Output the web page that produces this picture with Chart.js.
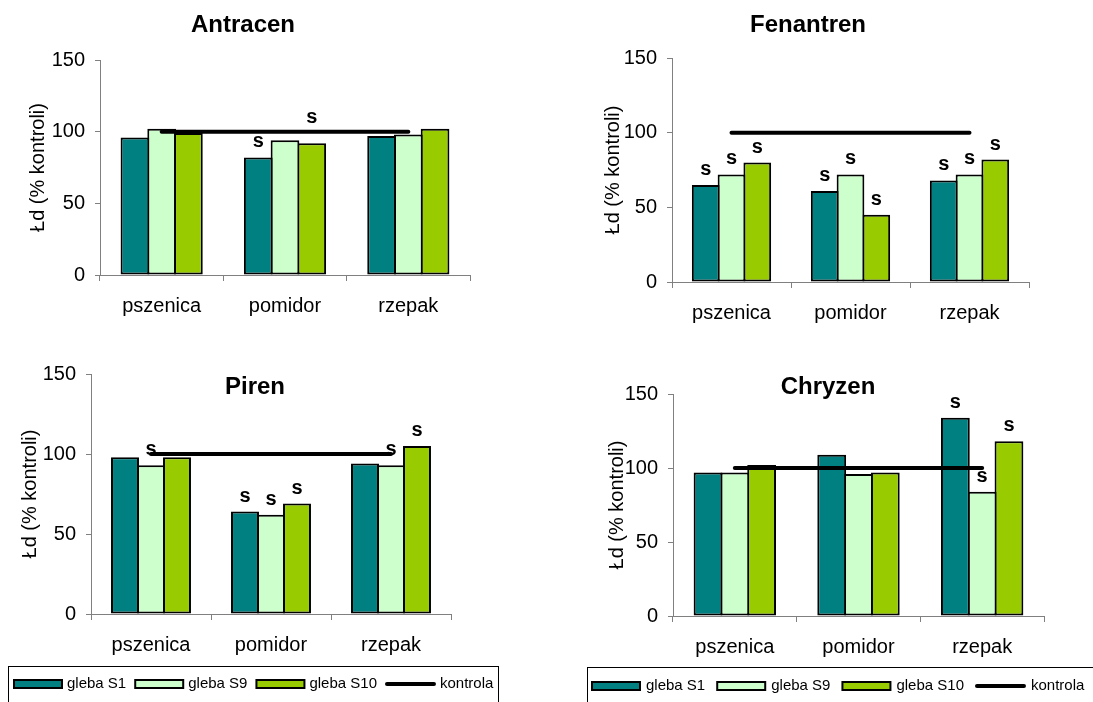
<!DOCTYPE html>
<html>
<head>
<meta charset="utf-8">
<script src="https://cdn.jsdelivr.net/npm/chart.js@4/dist/chart.umd.min.js"></script>
<style>
  html, body { margin: 0; padding: 0; background: #fff; }
  body { width: 1093px; height: 702px; overflow: hidden; position: relative; }
  canvas { position: absolute; }
</style>
</head>
<body>
<canvas id="antracen" width="540" height="330" style="left:0;top:0"></canvas>
<canvas id="fenantren" width="553" height="330" style="left:540px;top:0"></canvas>
<canvas id="piren" width="540" height="372" style="left:0;top:330px"></canvas>
<canvas id="chryzen" width="553" height="372" style="left:540px;top:330px"></canvas>
<script>
// Shared labels
const categories = ['pszenica', 'pomidor', 'rzepak'];
const seriesNames = ['gleba S1', 'gleba S9', 'gleba S10', 'kontrola'];
const yTicks = [0, 50, 100, 150];
const yAxisTitle = 'Łd (% kontroli)';
const kontrola = [100, 100, 100];

// Antracen
const antracenS1 = [96, 82, 97];
const antracenS9 = [102, 94, 98];
const antracenS10 = [99, 92, 102];
const antracenMarksS1 = ['', 's', ''];
const antracenMarksS9 = ['', '', ''];
const antracenMarksS10 = ['', 's', ''];

// Fenantren
const fenantrenS1 = [65, 61, 68];
const fenantrenS9 = [72, 72, 72];
const fenantrenS10 = [80, 45, 82];
const fenantrenMarksS1 = ['s', 's', 's'];
const fenantrenMarksS9 = ['s', 's', 's'];
const fenantrenMarksS10 = ['s', 's', 's'];

// Piren
const pirenS1 = [98, 64, 94];
const pirenS9 = [93, 62, 93];
const pirenS10 = [98, 69, 105];
const pirenMarksS1 = ['', 's', ''];
const pirenMarksS9 = ['s', 's', 's'];
const pirenMarksS10 = ['', 's', 's'];

// Chryzen
const chryzenS1 = [97, 109, 134];
const chryzenS9 = [97, 96, 84];
const chryzenS10 = [102, 97, 118];
const chryzenMarksS1 = ['', '', 's'];
const chryzenMarksS9 = ['', '', 's'];
const chryzenMarksS10 = ['', '', 's'];

const FONT = '"Liberation Sans", Arial, sans-serif';
const colors = ['#008080', '#CCFFCC', '#99CC00'];
const AXIS = '#808080';

// Bold panel heading drawn at a fixed spot
const panelTitle = {
  id: 'panelTitle',
  afterDraw(chart, args, opts) {
    const ctx = chart.ctx;
    ctx.save();
    ctx.font = 'bold 24px ' + FONT;
    ctx.fillStyle = '#000';
    ctx.textAlign = 'center';
    ctx.textBaseline = 'middle';
    ctx.fillText(opts.text, opts.x, opts.y);
    ctx.restore();
  }
};

// Significance letters above bars
const sigMarks = {
  id: 'sigMarks',
  afterDatasetsDraw(chart, args, opts) {
    const ctx = chart.ctx;
    ctx.save();
    ctx.font = 'bold 20px ' + FONT;
    ctx.fillStyle = '#000';
    ctx.textAlign = 'center';
    ctx.textBaseline = 'alphabetic';
    opts.marks.forEach((list, di) => {
      const meta = chart.getDatasetMeta(di);
      list.forEach((txt, i) => {
        if (!txt) return;
        const el = meta.data[i];
        const lift = (opts.lift && opts.lift[di + ',' + i]) || 0;
        ctx.fillText(txt, el.x, el.y - 10 - lift);
      });
    });
    ctx.restore();
  }
};

// Boxed legend row under the lower panels
const panelLegend = {
  id: 'panelLegend',
  afterDraw(chart, args, opts) {
    if (!opts.show) return;
    const ctx = chart.ctx;
    ctx.save();
    ctx.strokeStyle = '#000';
    ctx.lineWidth = 1;
    ctx.strokeRect(opts.boxX + 0.5, opts.boxY + 0.5, opts.boxW, 80);
    ctx.font = '15px ' + FONT;
    ctx.textBaseline = 'middle';
    ctx.fillStyle = '#000';
    let x = opts.x;
    const y = opts.y;
    chart.data.datasets.forEach(ds => {
      if (ds.type === 'line') {
        ctx.strokeStyle = '#000';
        ctx.lineWidth = 4;
        ctx.lineCap = 'round';
        ctx.beginPath();
        ctx.moveTo(x + 2, y + 5);
        ctx.lineTo(x + 49, y + 5);
        ctx.stroke();
        x += 51;
      } else {
        ctx.fillStyle = '#000';
        ctx.fillRect(x, y, 50, 10);
        ctx.fillStyle = ds.backgroundColor;
        ctx.fillRect(x + 2, y + 2, 46, 6);
        x += 50;
      }
      x += opts.textGap;
      ctx.fillStyle = '#000';
      ctx.fillText(ds.label, x, y + 5);
      x += ctx.measureText(ds.label).width + opts.itemGap;
    });
    ctx.restore();
  }
};

function makeChart(id, s1, s9, s10, marks, g) {
  const canvas = document.getElementById(id);
  const W = canvas.width, H = canvas.height;
  const bar = (label, data, color) => ({
    type: 'bar', label, data, backgroundColor: color,
    borderColor: '#000', borderWidth: 2, borderSkipped: false,
    categoryPercentage: 0.65, barPercentage: 1.075, order: 1
  });
  return new Chart(canvas, {
    data: {
      labels: categories,
      datasets: [
        bar(seriesNames[0], s1, colors[0]),
        bar(seriesNames[1], s9, colors[1]),
        bar(seriesNames[2], s10, colors[2]),
        {
          type: 'line', label: seriesNames[3], data: kontrola,
          borderColor: '#000', borderWidth: 4, borderCapStyle: 'round',
          pointRadius: 0, fill: false, order: 0, clip: false
        }
      ]
    },
    options: {
      responsive: false,
      animation: false,
      devicePixelRatio: 1,
      layout: { padding: { left: 0, top: g.top, right: W - g.right, bottom: 0 } },
      scales: {
        x: {
          offset: true,
          grid: { display: true, offset: true, drawOnChartArea: false, drawTicks: true, tickLength: 6, color: AXIS },
          border: { display: true, color: AXIS, width: 1 },
          ticks: { color: '#000', font: { size: 20, family: FONT }, padding: 13, maxRotation: 0, autoSkip: false },
          afterFit: s => { s.height = H - g.bottom; }
        },
        y: {
          min: 0, max: 150,
          afterBuildTicks: s => { s.ticks = yTicks.map(v => ({ value: v })); },
          grid: { display: true, drawOnChartArea: false, drawTicks: true, tickLength: 5, color: AXIS },
          border: { display: true, color: AXIS, width: 1 },
          ticks: { color: '#000', font: { size: 20, family: FONT }, padding: 10 },
          title: {
            display: true, text: yAxisTitle, color: '#000',
            font: { size: 20, family: FONT }, padding: { top: g.titleX - 12, bottom: 0 }
          },
          afterFit: s => { s.width = g.left; }
        }
      },
      plugins: {
        legend: { display: false },
        tooltip: { enabled: false },
        panelTitle: { text: g.title, x: g.titleCx, y: g.titleCy },
        sigMarks: { marks, lift: g.lift || {} },
        panelLegend: g.legend || { show: false }
      }
    },
    plugins: [panelTitle, sigMarks, panelLegend]
  });
}

makeChart('antracen', antracenS1, antracenS9, antracenS10,
  [antracenMarksS1, antracenMarksS9, antracenMarksS10],
  { left: 100, top: 60, right: 470, bottom: 275, titleX: 38,
    title: 'Antracen', titleCx: 243, titleCy: 25, lift: { '2,1': 10 } });

makeChart('fenantren', fenantrenS1, fenantrenS9, fenantrenS10,
  [fenantrenMarksS1, fenantrenMarksS9, fenantrenMarksS10],
  { left: 132, top: 58, right: 489, bottom: 282, titleX: 73,
    title: 'Fenantren', titleCx: 268, titleCy: 25 });

makeChart('piren', pirenS1, pirenS9, pirenS10,
  [pirenMarksS1, pirenMarksS9, pirenMarksS10],
  { left: 91, top: 44, right: 451, bottom: 284, titleX: 30,
    title: 'Piren', titleCx: 255, titleCy: 57,
    legend: { show: true, boxX: 8, boxY: 336, boxW: 490, x: 13, y: 349, textGap: 4, itemGap: 8 } });

makeChart('chryzen', chryzenS1, chryzenS9, chryzenS10,
  [chryzenMarksS1, chryzenMarksS9, chryzenMarksS10],
  { left: 133, top: 64, right: 504, bottom: 286, titleX: 77,
    title: 'Chryzen', titleCx: 288, titleCy: 57,
    legend: { show: true, boxX: 47, boxY: 337, boxW: 600, x: 51, y: 351, textGap: 5, itemGap: 11 } });
</script>
</body>
</html>
